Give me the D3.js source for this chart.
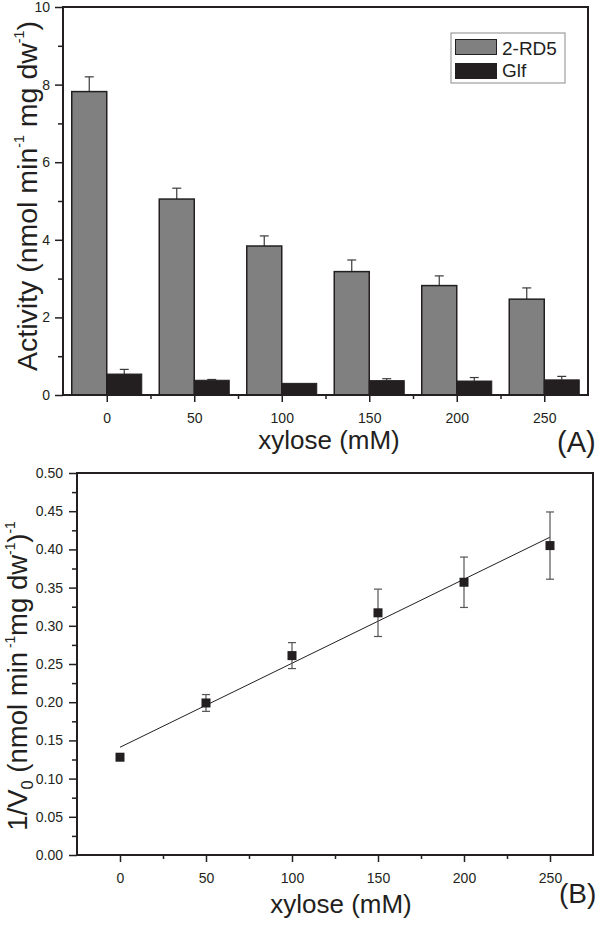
<!DOCTYPE html>
<html>
<head>
<meta charset="utf-8">
<script src="https://cdn.jsdelivr.net/npm/d3@7"></script>
<style>
  html, body { margin: 0; padding: 0; background: #fff; }
  svg { display: block; font-family: "Liberation Sans", Arial, sans-serif; }
</style>
</head>
<body>
<svg id="chart" width="600" height="928"></svg>
<script>
// ---------- Data: panel A ----------
const categories = [0, 50, 100, 150, 200, 250];
const seriesNames = ["2-RD5", "Glf"];
const rd5Values = [7.82, 5.05, 3.84, 3.18, 2.82, 2.47];
const rd5Errors = [0.38, 0.28, 0.26, 0.30, 0.25, 0.29];
const glfValues = [0.54, 0.38, 0.30, 0.37, 0.36, 0.39];
const glfErrors = [0.12, 0.02, 0.0, 0.05, 0.09, 0.09];
const yTicksA = [0, 2, 4, 6, 8, 10];
const xTicks = [0, 50, 100, 150, 200, 250];

// ---------- Data: panel B ----------
const xyloseB = [0, 50, 100, 150, 200, 250];
const invV0 = [0.128, 0.199, 0.261, 0.317, 0.357, 0.405];
const invV0Err = [0.0, 0.011, 0.017, 0.031, 0.033, 0.044];
const fitX = [0, 250];
const fitY = [0.141, 0.416];
const yTicksB = [0, 0.05, 0.10, 0.15, 0.20, 0.25, 0.30, 0.35, 0.40, 0.45, 0.50];

const INK = "#231f20";
const svg = d3.select("#chart");

function frame(g, x, y, xMinor, yMinor, yFmt, yLabelPad) {
  const [x0, x1] = x.range();
  const [y0, y1] = y.range(); // y0 bottom, y1 top
  // minor ticks
  g.append("g").attr("transform", `translate(0,${y0})`)
    .call(d3.axisBottom(x).tickValues(xMinor).tickSize(4).tickFormat(""))
    .call(a => a.select(".domain").remove())
    .call(a => a.selectAll("line").attr("stroke", INK).attr("stroke-width", 1.5));
  g.append("g").attr("transform", `translate(${x0},0)`)
    .call(d3.axisLeft(y).tickValues(yMinor).tickSize(5).tickFormat(""))
    .call(a => a.select(".domain").remove())
    .call(a => a.selectAll("line").attr("stroke", INK).attr("stroke-width", 1.5));
  // major ticks
  g.append("g").attr("transform", `translate(0,${y0})`)
    .call(d3.axisBottom(x).tickValues(xTicks).tickSize(7).tickPadding(11).tickFormat(d3.format("d")))
    .call(a => a.select(".domain").remove())
    .call(a => a.selectAll("line").attr("stroke", INK).attr("stroke-width", 1.5))
    .call(a => a.selectAll("text").attr("fill", INK).attr("font-size", 14)
      .attr("font-family", '"Liberation Sans", Arial, sans-serif'));
  g.append("g").attr("transform", `translate(${x0},0)`)
    .call(d3.axisLeft(y).tickValues(y.ticksList).tickSize(8).tickPadding(yLabelPad).tickFormat(yFmt))
    .call(a => a.select(".domain").remove())
    .call(a => a.selectAll("line").attr("stroke", INK).attr("stroke-width", 1.5))
    .call(a => a.selectAll("text").attr("fill", INK).attr("font-size", 14)
      .attr("font-family", '"Liberation Sans", Arial, sans-serif'));
  // box
  g.append("rect").attr("x", x0).attr("y", y1).attr("width", x1 - x0).attr("height", y0 - y1)
    .attr("fill", "none").attr("stroke", INK).attr("stroke-width", 2);
}

function yTitle(g, cx, cy, parts, size) {
  const t = g.append("text")
    .attr("transform", `translate(${cx},${cy}) rotate(-90)`)
    .attr("text-anchor", "middle").attr("font-size", size).attr("fill", INK);
  parts.forEach(p => {
    const s = t.append("tspan").text(p.t);
    if (p.sup) s.attr("font-size", size * 0.5).attr("dy", -size * 0.45);
    if (p.sub) s.attr("font-size", size * 0.6).attr("dy", size * 0.2);
    if (p.reset) s.attr("dy", p.reset);
  });
}

// ================= Panel A =================
const gA = svg.append("g");
const xA = d3.scaleLinear().domain([-25, 275]).range([63, 588]);
const yA = d3.scaleLinear().domain([0, 10]).range([395, 7]);
yA.ticksList = yTicksA;
const barW = 20; // in x data units

const rd5 = categories.map((c, i) => ({ c, v: rd5Values[i], e: rd5Errors[i] }));
const glf = categories.map((c, i) => ({ c, v: glfValues[i], e: glfErrors[i] }));

function errUp(g, data, xc, y, color) {
  const cap = 4.5;
  data.forEach(d => {
    if (d.e <= 0) return;
    const x = xc(d);
    g.append("line").attr("x1", x).attr("x2", x).attr("y1", y(d.v)).attr("y2", y(d.v + d.e))
      .attr("stroke", color).attr("stroke-width", 1.2);
    g.append("line").attr("x1", x - cap).attr("x2", x + cap).attr("y1", y(d.v + d.e)).attr("y2", y(d.v + d.e))
      .attr("stroke", color).attr("stroke-width", 1.2);
  });
}

errUp(gA, rd5, d => xA(d.c - barW / 2), yA, "#3a3a3a");
errUp(gA, glf, d => xA(d.c + barW / 2), yA, "#3a3a3a");

gA.selectAll("rect.rd5").data(rd5).join("rect").attr("class", "rd5")
  .attr("x", d => xA(d.c - barW)).attr("width", d => xA(d.c) - xA(d.c - barW))
  .attr("y", d => yA(d.v)).attr("height", d => yA(0) - yA(d.v))
  .attr("fill", "#808080").attr("stroke", INK).attr("stroke-width", 1.5);
gA.selectAll("rect.glf").data(glf).join("rect").attr("class", "glf")
  .attr("x", d => xA(d.c)).attr("width", d => xA(d.c + barW) - xA(d.c))
  .attr("y", d => yA(d.v)).attr("height", d => yA(0) - yA(d.v))
  .attr("fill", INK).attr("stroke", INK).attr("stroke-width", 1);

frame(gA, xA, yA, [25, 75, 125, 175, 225], [1, 3, 5, 7, 9], d3.format("d"), 5);

// legend
const lg = gA.append("g");
lg.append("rect").attr("x", 451).attr("y", 33).attr("width", 114).attr("height", 50)
  .attr("fill", "#fff").attr("stroke", "#8a8a8a").attr("stroke-width", 1);
lg.append("rect").attr("x", 455.5).attr("y", 39.5).attr("width", 41).attr("height", 15)
  .attr("fill", "#808080").attr("stroke", INK).attr("stroke-width", 1);
lg.append("rect").attr("x", 455).attr("y", 63).attr("width", 42).attr("height", 16)
  .attr("fill", INK);
lg.append("text").attr("x", 502).attr("y", 55).attr("font-size", 19).attr("fill", INK).text(seriesNames[0]);
lg.append("text").attr("x", 502).attr("y", 77).attr("font-size", 19).attr("fill", INK).text(seriesNames[1]);

gA.append("text").attr("x", 329).attr("y", 449).attr("text-anchor", "middle")
  .attr("font-size", 26).attr("fill", INK).text("xylose (mM)");
gA.append("text").attr("x", 557).attr("y", 452)
  .attr("font-size", 29).attr("fill", INK).text("(A)");
const fA = 28.5;
yTitle(gA, 37, 196, [
  { t: "Activity (nmol min" }, { t: "-1", sup: true },
  { t: " mg dw", reset: fA * 0.45 }, { t: "-1", sup: true }, { t: ")", reset: fA * 0.45 }
], fA);

// ================= Panel B =================
const gB = svg.append("g");
const xB = d3.scaleLinear().domain([-25, 275]).range([77, 593]);
const yB = d3.scaleLinear().domain([0, 0.5]).range([855, 473]);
yB.ticksList = yTicksB;

const ptsB = xyloseB.map((x, i) => ({ x, y: invV0[i], e: invV0Err[i] }));

gB.append("path")
  .attr("d", d3.line().x(d => xB(d[0])).y(d => yB(d[1]))(fitX.map((x, i) => [x, fitY[i]])))
  .attr("fill", "none").attr("stroke", INK).attr("stroke-width", 1);

ptsB.forEach(d => {
  if (d.e <= 0) return;
  const x = xB(d.x), cap = 4;
  gB.append("line").attr("x1", x).attr("x2", x).attr("y1", yB(d.y - d.e)).attr("y2", yB(d.y + d.e))
    .attr("stroke", "#555").attr("stroke-width", 1.2);
  [d.y - d.e, d.y + d.e].forEach(v => {
    gB.append("line").attr("x1", x - cap).attr("x2", x + cap).attr("y1", yB(v)).attr("y2", yB(v))
      .attr("stroke", "#555").attr("stroke-width", 1.2);
  });
});

gB.selectAll("rect.pt").data(ptsB).join("rect").attr("class", "pt")
  .attr("x", d => xB(d.x) - 4.5).attr("y", d => yB(d.y) - 4.5)
  .attr("width", 9).attr("height", 9).attr("fill", INK);

frame(gB, xB, yB, [25, 75, 125, 175, 225],
  [0.025, 0.075, 0.125, 0.175, 0.225, 0.275, 0.325, 0.375, 0.425, 0.475], d3.format(".2f"), 6);

gB.append("text").attr("x", 341).attr("y", 913).attr("text-anchor", "middle")
  .attr("font-size", 26).attr("fill", INK).text("xylose (mM)");
gB.append("text").attr("x", 559).attr("y", 903)
  .attr("font-size", 28).attr("fill", INK).text("(B)");
const fB = 27.5;
yTitle(gB, 27, 676, [
  { t: "1/V" }, { t: "0", sub: true },
  { t: " (nmol min", reset: -fB * 0.2 }, { t: " -1", sup: true },
  { t: "mg dw", reset: fB * 0.45 }, { t: "-1", sup: true }, { t: ")", reset: fB * 0.45 },
  { t: "-1", sup: true }
], fB);
</script>
</body>
</html>
